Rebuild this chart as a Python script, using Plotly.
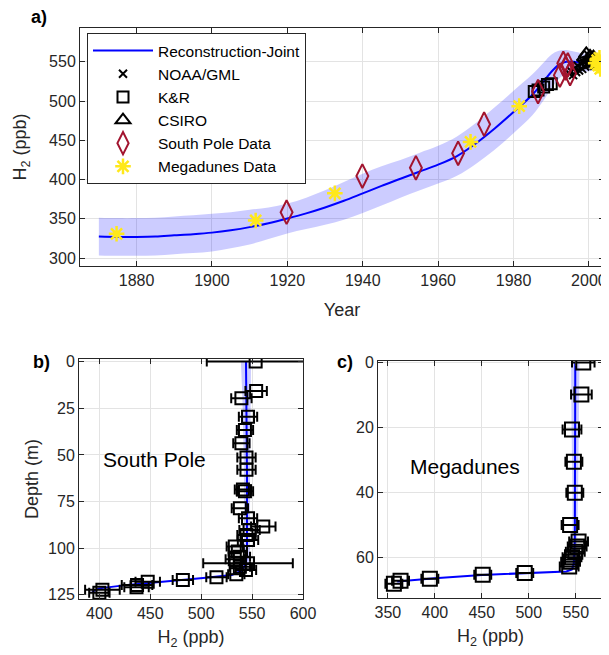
import plotly.graph_objects as go

# ---------------- Panel a data ----------------
rec_year = [1870, 1875, 1880, 1885, 1890, 1895, 1900, 1905, 1910, 1915, 1920, 1925, 1930, 1935,
            1940, 1945, 1950, 1955, 1960, 1965, 1970, 1975, 1980, 1985, 1988, 1990, 1992, 1994,
            1996, 1998, 2000, 2002, 2003]
rec_h2 = [327.5, 327, 327, 327.5, 329, 330.5, 332.5, 335.5, 339.5, 344.5, 350.5, 357, 364.5, 373,
          382.5, 392, 401, 410, 419, 430, 446, 465, 486, 508, 525, 537, 546, 550,
          550, 549, 549, 550, 550]
rec_err = [24, 24, 24, 24, 24, 24, 24, 23, 22, 20, 19, 20, 22, 24,
           25, 25, 24, 24, 24, 25, 26, 27, 27, 26, 24, 22, 18, 15,
           13, 12, 11, 10, 10]

noaa_year = [1994.8, 1995.3, 1995.8, 1996.2, 1996.6, 1997.0, 1997.4, 1997.8, 1998.2, 1998.6,
             1999.0, 1999.4, 1999.8, 2000.2, 2000.6, 2001.0, 2001.4]
noaa_h2 = [535, 538, 533, 542, 537, 545, 539, 548, 541, 550, 544, 552, 546, 553, 547, 551, 545]

kr_year = [1985.5, 1986.5, 1988.0, 1989.0, 1990.0]
kr_h2 = [512, 514, 518, 521, 522]

csiro_year = [1998.8, 1999.3, 1999.8, 2000.3, 2000.8, 2001.2, 2003.6, 2003.9]
csiro_h2 = [556, 560, 553, 557, 552, 556, 550, 546]

sp_year = [1919.8, 1939.9, 1954.1, 1965.3, 1972.2, 1986.5, 1992.3, 1993.2, 1993.8, 1994.4, 1995.0]
sp_h2 = [358.5, 404.5, 415, 433.5, 470.5, 512, 533, 548, 542, 546, 535]

md_year = [1874.7, 1911.6, 1932.6, 1968.6, 1981.5, 2001.8, 2002.2, 2002.5, 2002.8, 2003.0, 2003.2]
md_h2 = [331, 348, 382.5, 448, 493.5, 548, 552, 545, 555, 541, 549]

# ---------------- Panel b data (South Pole firn) ----------------
sp_depth = [0, 15.7, 19.6, 29.5, 36.6, 43.7, 51.4, 58, 68.5, 69.5, 78.6, 83.9, 88.4, 90.2, 92.9,
            95.6, 99.1, 101.8, 104.5, 105.9, 108, 109.9, 111.6, 114, 115.5, 117, 117.9, 119.7,
            120.9, 122.3, 123.8]
sp_firn = [553.5, 554, 539.5, 546, 543, 539.5, 544.5, 544.5, 541, 543, 538, 546, 561, 547.5, 544.5,
           546, 533, 536, 538, 533, 546, 538, 544, 534.5, 515, 482, 447.5, 437,
           436.5, 403, 400]
sp_firn_err = [48, 10.5, 10, 9, 8, 8, 9, 9, 8, 8, 8, 9, 12, 10, 9,
               10, 8, 9, 10, 9, 44, 10, 10, 8, 10, 10, 12, 15,
               12, 17, 10]
sp_mod_depth = [0, 20, 60, 100, 108, 112, 114.3, 116, 117.9, 119.5, 121.5, 123.3]
sp_mod_h2 = [544, 544.5, 545, 545, 544, 540, 530, 502, 459, 430, 400, 393]
sp_mod_err = [5, 4, 3, 3, 3, 3, 3, 3, 3, 3, 3, 3]

# ---------------- Panel c data (Megadunes firn) ----------------
md_depth = [0, 9.8, 20.6, 30.6, 40.1, 50.1, 55.2, 56.7, 58.3, 60, 61.4, 62.9, 64.9, 65.4, 66.7,
            67.3, 68.2]
md_firn = [558, 556, 546, 548, 549, 544, 553, 551.5, 549.5, 546, 544.5, 543, 495.7, 451, 394.7,
           363.5, 356.4]
md_firn_err = [12, 11, 10, 9, 9, 9, 10, 10, 10, 10, 10, 10, 9, 9, 9, 9, 9]
md_mod_depth = [0, 20, 40, 55, 62, 63.8, 64.4, 64.8, 65.5, 66.5, 67.5]
md_mod_h2 = [549.5, 549.5, 549.5, 549, 548, 546, 540, 500, 450, 400, 360]
md_mod_err = [4.5, 4, 3, 2.5, 2, 2, 2, 2, 2, 2, 2]

# ---------------- Figure ----------------
BLUE = "#0000FF"
BAND = "rgba(0,0,255,0.2)"
DARKRED = "#A2142F"
YELLOW = "#FFE81A"
AX = "#262626"
GRID = "#E3E3E3"
FONT = "Liberation Sans, Arial, sans-serif"

fig = go.Figure()

# band a
fig.add_trace(go.Scatter(
    x=rec_year + rec_year[::-1],
    y=[v + e for v, e in zip(rec_h2, rec_err)] + [v - e for v, e in zip(rec_h2, rec_err)][::-1],
    fill="toself", fillcolor=BAND, line=dict(width=0, shape="spline"), mode="lines",
    showlegend=False, hoverinfo="skip", xaxis="x", yaxis="y"))
fig.add_trace(go.Scatter(x=rec_year, y=rec_h2, mode="lines", line=dict(color=BLUE, width=2, shape="spline"),
                         name="Reconstruction-Joint", xaxis="x", yaxis="y", legendrank=1))
fig.add_trace(go.Scatter(x=kr_year, y=kr_h2, mode="markers", name="K&R",
                         marker=dict(symbol="square-open", size=11, color="#000000", line=dict(width=2)),
                         xaxis="x", yaxis="y", legendrank=3))
fig.add_trace(go.Scatter(x=noaa_year, y=noaa_h2, mode="markers", name="NOAA/GML",
                         marker=dict(symbol="x-thin-open", size=8, color="#000000", line=dict(width=2)),
                         xaxis="x", yaxis="y", legendrank=2))
fig.add_trace(go.Scatter(x=csiro_year, y=csiro_h2, mode="markers", name="CSIRO",
                         marker=dict(symbol="triangle-up-open", size=13, color="#000000", line=dict(width=2)),
                         xaxis="x", yaxis="y", legendrank=4))
fig.add_trace(go.Scatter(x=sp_year, y=sp_h2, mode="markers", name="South Pole Data",
                         marker=dict(symbol="diamond-tall-open", size=17, color=DARKRED, line=dict(width=2)),
                         xaxis="x", yaxis="y", legendrank=5))
fig.add_trace(go.Scatter(x=md_year, y=md_h2, mode="markers", name="Megadunes Data",
                         marker=dict(symbol="asterisk-open", size=13, color=YELLOW, line=dict(width=2.5, color=YELLOW)),
                         xaxis="x", yaxis="y", legendrank=6))

# panel b
fig.add_trace(go.Scatter(
    x=[v + e for v, e in zip(sp_mod_h2, sp_mod_err)] + [v - e for v, e in zip(sp_mod_h2, sp_mod_err)][::-1],
    y=sp_mod_depth + sp_mod_depth[::-1],
    fill="toself", fillcolor=BAND, line=dict(width=0), mode="lines",
    showlegend=False, hoverinfo="skip", xaxis="x2", yaxis="y2"))
fig.add_trace(go.Scatter(x=sp_mod_h2, y=sp_mod_depth, mode="lines", line=dict(color=BLUE, width=2),
                         showlegend=False, xaxis="x2", yaxis="y2"))
fig.add_trace(go.Scatter(x=sp_firn, y=sp_depth, mode="markers", showlegend=False,
                         marker=dict(symbol="square-open", size=12, color="#000000", line=dict(width=2)),
                         error_x=dict(type="data", array=sp_firn_err, color="#000000", thickness=2, width=5),
                         xaxis="x2", yaxis="y2", cliponaxis=True))

# panel c
fig.add_trace(go.Scatter(
    x=[v + e for v, e in zip(md_mod_h2, md_mod_err)] + [v - e for v, e in zip(md_mod_h2, md_mod_err)][::-1],
    y=md_mod_depth + md_mod_depth[::-1],
    fill="toself", fillcolor=BAND, line=dict(width=0), mode="lines",
    showlegend=False, hoverinfo="skip", xaxis="x3", yaxis="y3"))
fig.add_trace(go.Scatter(x=md_mod_h2, y=md_mod_depth, mode="lines", line=dict(color=BLUE, width=2),
                         showlegend=False, xaxis="x3", yaxis="y3"))
fig.add_trace(go.Scatter(x=md_firn, y=md_depth, mode="markers", showlegend=False,
                         marker=dict(symbol="square-open", size=14, color="#000000", line=dict(width=2)),
                         error_x=dict(type="data", array=md_firn_err, color="#000000", thickness=2, width=5),
                         xaxis="x3", yaxis="y3"))

# the page body has an 8px margin, so the figure starts at (8, 8) in the window
OFF = 8
W, H = 609 - OFF, 655 - OFF


def px(xp):
    return (xp - OFF) / W


def py(yp):
    return 1 - (yp - OFF) / H


axcommon = dict(showline=True, linecolor=AX, linewidth=1, mirror="ticks", ticks="inside",
                ticklen=5, tickcolor=AX, showgrid=True, gridcolor=GRID, gridwidth=1,
                zeroline=False, automargin=False, tickfont=dict(family=FONT, size=16, color=AX))
TT = dict(size=18, color=AX, family=FONT)

fig.update_layout(
    template="none",
    width=W, height=H, margin=dict(l=0, r=0, t=0, b=0, autoexpand=False),
    paper_bgcolor="white", plot_bgcolor="white",
    font=dict(family=FONT, color=AX),
    xaxis=dict(domain=[px(80), px(604)], range=[1865, 2004], anchor="y",
               tickvals=[1880, 1900, 1920, 1940, 1960, 1980, 2000],
               title=dict(text="Year", font=TT, standoff=15), **axcommon),
    yaxis=dict(domain=[py(266), py(28)], range=[290, 593], anchor="x",
               tickvals=[300, 350, 400, 450, 500, 550],
               title=dict(text="H<sub>2</sub> (ppb)", font=TT, standoff=17), **axcommon),
    xaxis2=dict(domain=[px(79), px(303)], range=[380, 600], anchor="y2",
                tickvals=[400, 450, 500, 550, 600],
                title=dict(text="H<sub>2</sub> (ppb)", font=TT, standoff=9), **axcommon),
    yaxis2=dict(domain=[py(599), py(359)], range=[127.2, -1.4], anchor="x2",
                tickvals=[0, 25, 50, 75, 100, 125],
                title=dict(text="Depth (m)", font=TT, standoff=4), **axcommon),
    xaxis3=dict(domain=[px(378), px(603)], range=[339.5, 579], anchor="y3",
                tickvals=[350, 400, 450, 500, 550],
                title=dict(text="H<sub>2</sub> (ppb)", font=TT, standoff=9), **axcommon),
    yaxis3=dict(domain=[py(598), py(361)], range=[72.6, -0.5], anchor="x3",
                tickvals=[0, 20, 40, 60], **axcommon),
    legend=dict(x=px(87), y=py(33), xanchor="left", yanchor="top",
                bgcolor="white", bordercolor=AX, borderwidth=1,
                font=dict(family=FONT, size=15.5, color="#000000"),
                itemwidth=60, tracegroupgap=0),
    showlegend=True,
    annotations=[
        dict(text="<b>a)</b>", x=px(29), y=py(17), xref="paper", yref="paper", showarrow=False,
             xanchor="left", yanchor="middle", font=dict(size=18, color="#000000")),
        dict(text="<b>b)</b>", x=px(31), y=py(362), xref="paper", yref="paper", showarrow=False,
             xanchor="left", yanchor="middle", font=dict(size=18, color="#000000")),
        dict(text="<b>c)</b>", x=px(335), y=py(362), xref="paper", yref="paper", showarrow=False,
             xanchor="left", yanchor="middle", font=dict(size=18, color="#000000")),
        dict(text="South Pole", x=px(101), y=py(460), xref="paper", yref="paper", showarrow=False,
             xanchor="left", yanchor="middle", font=dict(size=21, color="#000000")),
        dict(text="Megadunes", x=px(408), y=py(466), xref="paper", yref="paper", showarrow=False,
             xanchor="left", yanchor="middle", font=dict(size=21, color="#000000")),
    ],
)

fig.write_html("out.html")
